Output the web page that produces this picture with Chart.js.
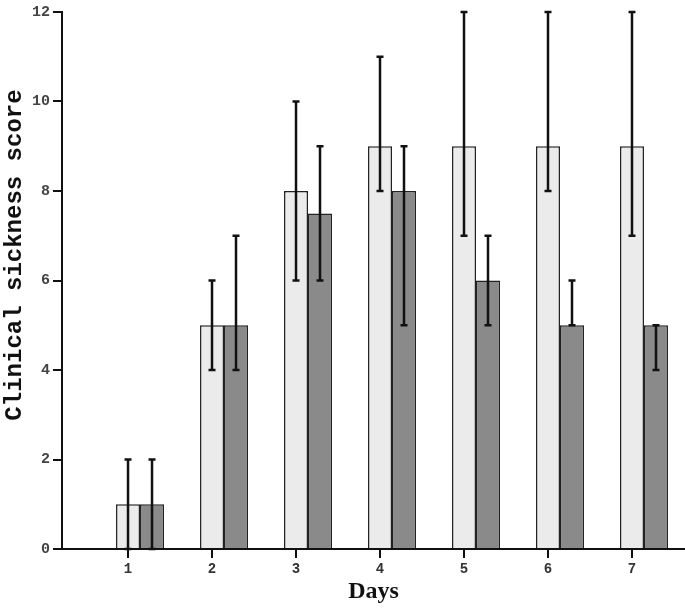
<!DOCTYPE html>
<html>
<head>
<meta charset="utf-8">
<script src="https://cdn.jsdelivr.net/npm/chart.js@4"></script>
<style>
  body { margin: 0; background: #ffffff; }
  #wrap { width: 685px; height: 608px; }
</style>
</head>
<body>
<div id="wrap"><canvas id="myChart"></canvas></div>
<script>
// days on the x axis
const days = [1, 2, 3, 4, 5, 6, 7];
// empty group (shows only as a line on the axis)
const zeroValues = [0, 0, 0, 0, 0, 0, 0];
// light bars
const lightValues = [1, 5, 8, 9, 9, 9, 9];
const lightLow = [0, 4, 6, 8, 7, 8, 7];
const lightHigh = [2, 6, 10, 11, 12, 12, 12];
// dark bars
const darkValues = [1, 5, 7.5, 8, 6, 5, 5];
const darkLow = [0, 4, 6, 5, 5, 5, 4];
const darkHigh = [2, 7, 9, 9, 7, 6, 5];
const yTicks = [0, 2, 4, 6, 8, 10, 12];
const yTitle = "Clinical sickness score";

function toPoints(values) {
    var points = [];
    for (let i = 0; i < days.length; i++) {
	points.push({ x: days[i], y: values[i] });
    }
    return points;
}

// error bars drawn on top of the bars
const errorBarPlugin = {
    id: "errorBars",
    afterDatasetsDraw: function (chart) {
	const ctx = chart.ctx;
	const yScale = chart.scales.y;
	const ranges = [null, [lightLow, lightHigh], [darkLow, darkHigh]];
	ctx.save();
	ctx.strokeStyle = "#111111";
	ctx.lineWidth = 2.5;
	for (let d = 1; d < ranges.length; d++) {
	    const meta = chart.getDatasetMeta(d);
	    meta.data.forEach(function (bar, i) {
		const x = bar.x;
		const yLo = yScale.getPixelForValue(ranges[d][0][i]);
		const yHi = yScale.getPixelForValue(ranges[d][1][i]);
		ctx.beginPath();
		ctx.moveTo(x, yLo);
		ctx.lineTo(x, yHi);
		ctx.moveTo(x - 3.5, yHi);
		ctx.lineTo(x + 3.5, yHi);
		ctx.moveTo(x - 3.5, yLo);
		ctx.lineTo(x + 3.5, yLo);
		ctx.stroke();
	    });
	}
	ctx.restore();
    }
};

// y title, placed a bit above the middle like the original
const yTitlePlugin = {
    id: "yTitle",
    afterDraw: function (chart) {
	const ctx = chart.ctx;
	ctx.save();
	ctx.translate(15, 255);
	ctx.rotate(-Math.PI / 2);
	ctx.font = "bold 24px 'Liberation Mono'";
	ctx.fillStyle = "#111111";
	ctx.textAlign = "center";
	ctx.textBaseline = "middle";
	ctx.fillText(yTitle, 0, 0);
	ctx.restore();
    }
};

function drawChart() {
    const ctx = document.getElementById("myChart").getContext("2d");
    window.myChart = new Chart(ctx, {
	type: "bar",
	data: {
	    datasets: [
		{ label: "none", data: toPoints(zeroValues),
		  backgroundColor: "#ffffff", borderColor: "#222222", borderWidth: 1.5 },
		{ label: "light", data: toPoints(lightValues),
		  backgroundColor: "#ebebeb", borderColor: "#222222", borderWidth: 1.5 },
		{ label: "dark", data: toPoints(darkValues),
		  backgroundColor: "#8a8a8a", borderColor: "#222222", borderWidth: 1.5 }
	    ]
	},
	options: {
	    responsive: true,
	    maintainAspectRatio: false,
	    animation: false,
	    categoryPercentage: 0.857,
	    barPercentage: 1,
	    layout: { padding: { top: 6, right: 0, left: 0, bottom: 0 } },
	    plugins: {
		legend: { display: false },
		tooltip: { enabled: false }
	    },
	    scales: {
		x: {
		    type: "linear",
		    offset: false,
		    min: 0.214,
		    max: 7.631,
		    afterBuildTicks: function (scale) {
			scale.ticks = days.map(function (d) { return { value: d }; });
		    },
		    afterFit: function (scale) { scale.height = 59; },
		    grid: { offset: false, drawOnChartArea: false, drawTicks: true, tickLength: 9,
			    color: "#111111", lineWidth: 2 },
		    border: { display: true, color: "#111111", width: 2 },
		    ticks: {
			padding: 3,
			color: "#333333",
			font: { family: "Liberation Mono", size: 14, weight: "bold" }
		    },
		    title: {
			display: true,
			text: "Days",
			color: "#111111",
			padding: { top: 0, bottom: 2 },
			font: { family: "Liberation Serif", size: 24, weight: "bold" }
		    }
		},
		y: {
		    min: 0,
		    max: 12,
		    afterBuildTicks: function (scale) {
			scale.ticks = yTicks.map(function (v) { return { value: v }; });
		    },
		    afterFit: function (scale) { scale.width = 62; },
		    grid: { drawOnChartArea: false, drawTicks: true, tickLength: 9,
			    color: "#111111", lineWidth: 2 },
		    border: { display: true, color: "#111111", width: 2 },
		    ticks: {
			padding: 3,
			color: "#444444",
			font: { family: "Liberation Mono", size: 15, weight: "bold" }
		    },
		    title: { display: false }
		}
	    }
	},
	plugins: [errorBarPlugin, yTitlePlugin]
    });
}

drawChart();
</script>
</body>
</html>
